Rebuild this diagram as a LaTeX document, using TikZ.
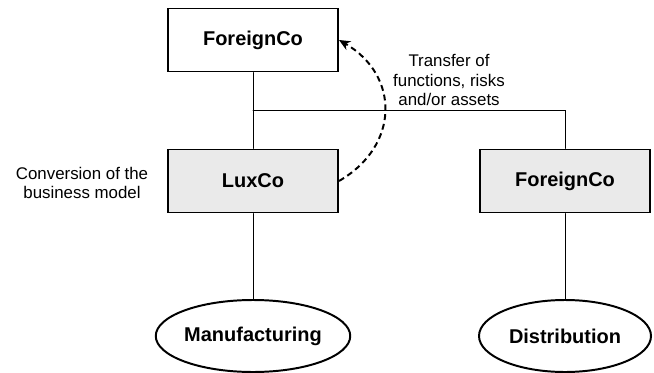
\documentclass[tikz,border=0pt]{standalone}
\usepackage{fontspec}
\setmainfont{Liberation Sans}
\usetikzlibrary{arrows.meta,shapes.geometric}
\definecolor{entity}{HTML}{EAEAEA}

\begin{document}
\begin{tikzpicture}[>=Stealth, line cap=round,
		font=\fontsize{12}{14.2}\selectfont,
		company/.style={draw, line width=1.4pt, minimum width=4.25cm,
				minimum height=1.575cm, inner sep=0pt,
				font=\fontsize{14.2}{16}\selectfont\bfseries},
		activity/.style={ellipse, draw, line width=1.4pt, minimum width=4.3cm,
				minimum height=1.8cm, inner sep=0pt,
				font=\fontsize{14.2}{16}\selectfont\bfseries},
		link/.style={line width=0.6pt}]

	\useasboundingbox (0,0) rectangle (16.35,-9.3);

	% ---- coordinate principali ----
	\coordinate (P) at (6.325,-1.0);    % capogruppo
	\coordinate (L) at (6.325,-4.525);  % societa lussemburghese
	\coordinate (R) at (14.125,-4.525); % consociata estera
	\coordinate (J) at (6.325,-2.75);   % diramazione

	% ---- societa ----
	\node[company] (parent) at (P) {ForeignCo};
	\node[company, fill=entity] (luxco) at (L) {LuxCo};
	\node[company, fill=entity] (foreign) at (R) {ForeignCo};

	% ---- attivita ----
	\node[activity] (manuf) at (6.325,-8.4) {Manufacturing};
	\node[activity] (distr) at (14.125,-8.4) {Distribution};

	% ---- collegamenti ----
	\draw[link] (parent) -- (luxco);
	\draw[link] (J) -| (foreign);
	\draw[link] (luxco) -- (manuf);
	\draw[link] (foreign) -- (distr);

	% ---- trasferimento (freccia tratteggiata) ----
	\draw[->, line width=1.4pt, dash pattern=on 4.2pt off 2.8pt,
		line cap=butt, >={Stealth[length=8pt,width=7pt]}]
	(luxco.east) to[out=30, in=-30, looseness=1.28] (parent.east);

	% ---- etichette ----
	\node[align=center] (transfer) at (11.225,-2.0)
	{Transfer of\\ functions, risks\\ and/or assets};
	\node[align=center, font=\fontsize{12}{13.5}\selectfont] (conversion) at (2.05,-4.575)
	{Conversion of the\\ business model};

\end{tikzpicture}
\end{document}
